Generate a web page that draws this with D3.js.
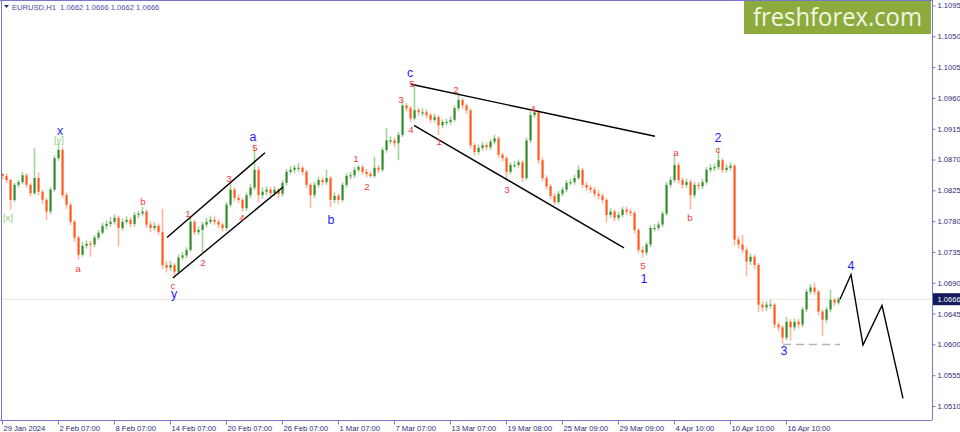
<!DOCTYPE html>
<html><head><meta charset="utf-8">
<script src="https://cdn.jsdelivr.net/npm/d3@7"></script>
<style>html,body{margin:0;padding:0;background:#fff;}svg{display:block;}</style>
</head><body>
<script>
// ---- data (EURUSD H1; one candle ~ 7 hourly bars) ----
const closes = [
1.0846,1.0840,1.0811,1.0833,1.0837,1.0847,1.0833,1.0821,1.0843,1.0823,
1.0811,1.0794,1.0826,1.0872,1.0884,1.0818,1.0804,1.0779,1.0756,1.0731,
1.0744,1.0747,1.0746,1.0756,1.0763,1.0773,1.0776,1.0779,1.0785,1.0770,
1.0779,1.0782,1.0776,1.0789,1.0791,1.0794,1.0775,1.0770,1.0773,1.0764,
1.0716,1.0712,1.0716,1.0706,1.0727,1.0730,1.0738,1.0779,1.0764,1.0767,
1.0775,1.0779,1.0782,1.0779,1.0775,1.0770,1.0804,1.0826,1.0814,1.0811,
1.0799,1.0818,1.0829,1.0855,1.0818,1.0823,1.0826,1.0821,1.0826,1.0820,
1.0836,1.0852,1.0855,1.0858,1.0858,1.0852,1.0833,1.0818,1.0833,1.0840,
1.0837,1.0843,1.0811,1.0817,1.0811,1.0833,1.0846,1.0847,1.0855,1.0859,
1.0852,1.0849,1.0846,1.0858,1.0855,1.0884,1.0898,1.0898,1.0894,1.0906,
1.0949,1.0945,1.0930,1.0942,1.0939,1.0939,1.0935,1.0928,1.0932,1.0920,
1.0925,1.0925,1.0928,1.0945,1.0957,1.0949,1.0942,1.0891,1.0881,1.0887,
1.0891,1.0888,1.0896,1.0901,1.0877,1.0872,1.0852,1.0862,1.0862,1.0866,
1.0843,1.0898,1.0935,1.0939,1.0869,1.0843,1.0831,1.0817,1.0808,1.0820,
1.0826,1.0836,1.0837,1.0843,1.0855,1.0833,1.0829,1.0826,1.0820,1.0817,
1.0811,1.0789,1.0794,1.0785,1.0789,1.0797,1.0794,1.0792,1.0767,1.0738,
1.0734,1.0746,1.0770,1.0770,1.0775,1.0791,1.0833,1.0840,1.0862,1.0840,
1.0833,1.0837,1.0818,1.0833,1.0831,1.0837,1.0855,1.0858,1.0859,1.0869,
1.0855,1.0858,1.0861,1.0753,1.0746,1.0738,1.0721,1.0728,1.0716,1.0658,
1.0654,1.0658,1.0658,1.0629,1.0625,1.0610,1.0633,1.0625,1.0633,1.0629,
1.0651,1.0677,1.0683,1.0677,1.0648,1.0636,1.0651,1.0665,1.0661,1.0666];
const highs = [
1.0850,1.0850,1.0842,1.0836,1.0841,1.0852,1.0850,1.0836,1.0887,1.0851,
1.0826,1.0814,1.0830,1.0876,1.0894,1.0888,1.0822,1.0807,1.0782,1.0759,
1.0750,1.0752,1.0751,1.0760,1.0767,1.0778,1.0781,1.0786,1.0790,1.0788,
1.0784,1.0787,1.0786,1.0793,1.0795,1.0801,1.0797,1.0780,1.0779,1.0777,
1.0798,1.0722,1.0722,1.0719,1.0731,1.0735,1.0742,1.0786,1.0782,1.0772,
1.0779,1.0785,1.0788,1.0787,1.0783,1.0778,1.0808,1.0837,1.0830,1.0819,
1.0814,1.0822,1.0834,1.0887,1.0860,1.0829,1.0831,1.0830,1.0831,1.0829,
1.0840,1.0856,1.0860,1.0862,1.0865,1.0861,1.0855,1.0836,1.0837,1.0845,
1.0844,1.0855,1.0846,1.0822,1.0820,1.0837,1.0850,1.0852,1.0859,1.0862,
1.0862,1.0856,1.0853,1.0874,1.0862,1.0888,1.0916,1.0904,1.0902,1.0910,
1.0957,1.0953,1.0948,1.0981,1.0946,1.0945,1.0943,1.0938,1.0937,1.0935,
1.0929,1.0930,1.0933,1.0949,1.0967,1.0960,1.0952,1.0945,1.0894,1.0892,
1.0896,1.0895,1.0900,1.0906,1.0904,1.0880,1.0875,1.0866,1.0868,1.0870,
1.0869,1.0902,1.0940,1.0945,1.0942,1.0873,1.0847,1.0834,1.0821,1.0824,
1.0830,1.0840,1.0842,1.0848,1.0862,1.0858,1.0837,1.0833,1.0830,1.0825,
1.0821,1.0814,1.0799,1.0797,1.0794,1.0801,1.0801,1.0798,1.0795,1.0770,
1.0743,1.0750,1.0774,1.0776,1.0780,1.0795,1.0837,1.0845,1.0877,1.0866,
1.0844,1.0842,1.0841,1.0837,1.0837,1.0842,1.0859,1.0863,1.0864,1.0887,
1.0872,1.0863,1.0866,1.0864,1.0758,1.0760,1.0742,1.0733,1.0731,1.0719,
1.0663,1.0663,1.0665,1.0661,1.0633,1.0628,1.0640,1.0637,1.0638,1.0637,
1.0655,1.0681,1.0688,1.0690,1.0680,1.0651,1.0655,1.0680,1.0668,1.0669];
const lows = [
1.0841,1.0836,1.0797,1.0808,1.0829,1.0834,1.0829,1.0816,1.0818,1.0818,
1.0805,1.0782,1.0790,1.0823,1.0868,1.0814,1.0798,1.0774,1.0750,1.0724,
1.0728,1.0740,1.0728,1.0742,1.0752,1.0760,1.0768,1.0772,1.0775,1.0743,
1.0766,1.0775,1.0771,1.0772,1.0784,1.0787,1.0770,1.0764,1.0766,1.0760,
1.0710,1.0705,1.0707,1.0697,1.0702,1.0723,1.0726,1.0735,1.0760,1.0760,
1.0734,1.0771,1.0776,1.0774,1.0770,1.0765,1.0766,1.0800,1.0809,1.0806,
1.0794,1.0795,1.0814,1.0825,1.0807,1.0813,1.0818,1.0816,1.0817,1.0814,
1.0816,1.0832,1.0848,1.0850,1.0852,1.0847,1.0828,1.0799,1.0814,1.0829,
1.0832,1.0833,1.0801,1.0806,1.0805,1.0808,1.0829,1.0841,1.0843,1.0851,
1.0848,1.0844,1.0843,1.0843,1.0850,1.0852,1.0880,1.0892,1.0888,1.0869,
1.0903,1.0940,1.0925,1.0927,1.0934,1.0933,1.0930,1.0923,1.0924,1.0906,
1.0916,1.0920,1.0921,1.0925,1.0941,1.0944,1.0937,1.0886,1.0876,1.0877,
1.0883,1.0884,1.0884,1.0892,1.0872,1.0867,1.0840,1.0848,1.0857,1.0858,
1.0837,1.0840,1.0894,1.0931,1.0864,1.0838,1.0826,1.0812,1.0804,1.0805,
1.0816,1.0822,1.0832,1.0833,1.0840,1.0829,1.0824,1.0821,1.0815,1.0812,
1.0806,1.0778,1.0785,1.0780,1.0781,1.0785,1.0789,1.0787,1.0762,1.0733,
1.0727,1.0730,1.0742,1.0765,1.0766,1.0771,1.0788,1.0829,1.0836,1.0835,
1.0828,1.0829,1.0797,1.0814,1.0826,1.0827,1.0833,1.0851,1.0853,1.0855,
1.0850,1.0851,1.0854,1.0744,1.0740,1.0733,1.0699,1.0716,1.0710,1.0647,
1.0648,1.0649,1.0652,1.0624,1.0619,1.0601,1.0606,1.0606,1.0620,1.0623,
1.0625,1.0647,1.0673,1.0672,1.0643,1.0612,1.0631,1.0647,1.0656,1.0658];
const firstOpen = 1.0849;

const timeLabels = ["29 Jan 2024","2 Feb 07:00","8 Feb 07:00","14 Feb 07:00","20 Feb 07:00","26 Feb 07:00","1 Mar 07:00","7 Mar 07:00","13 Mar 07:00","19 Mar 08:00","25 Mar 09:00","29 Mar 09:00","4 Apr 10:00","10 Apr 10:00","16 Apr 10:00"];
const candlesPerLabel = 14;
const totalSlots = 232.5;
const priceTicks = [1.1095,1.1050,1.1005,1.0960,1.0915,1.0870,1.0825,1.0780,1.0735,1.0690,1.0645,1.0600,1.0555,1.0510];
const lastPrice = 1.0666;
const headerText = "EURUSD,H1  1.0662 1.0666 1.0662 1.0666";
const brand = "freshforex.com";

// wave labels: [text, candle index, price]
const redLabels = [
 ["a",19,1.0711],["b",35.25,1.0808],["c",42.75,1.0686],
 ["1",46.5,1.0791],["2",50.25,1.0719],["3",56.75,1.0842],["4",60,1.0785],["5",63.25,1.0888],
 ["1",88.5,1.0872],["2",91.25,1.0831],["3",99.75,1.0957],["4",102.25,1.0914],["5",102.5,1.0981],
 ["1",109.25,1.0896],["2",113.5,1.0973],["3",126.25,1.0826],["4",132.75,1.0945],["5",160.25,1.0715],
 ["a",168.5,1.0881],["b",172,1.0785],["c",179,1.0885]];
const blueLabels = [
 ["x",14.5,1.0912],["y",43,1.0673],["a",62.75,1.0903],["b",82.25,1.0782],["c",102,1.0996],
 ["1",160.5,1.0696],["2",179,1.0902],["3",195.5,1.0590],["4",212.25,1.0714]];
const greenLabels = [["[x]",1.5,1.0785],["[y]",14.25,1.0900]];

const trendLines = [
 [[41.25,1.0756],[65.75,1.0880]],
 [[42.7,1.0697],[70.3,1.0830]],
 [[102.25,1.0980],[163.25,1.0904]],
 [[103,1.0920],[155.5,1.0741]]];
const projection = [[209.5,1.0666],[212.25,1.0702],[215.25,1.0599],[220,1.0657],[225.25,1.0521]];
const support = [[195.25,1.0600],[209.5,1.0600]];

// ---- drawing ----
const W = 960, H = 432, plotR = 932, plotB = 420;
const svg = d3.select("body").append("svg").attr("width", W).attr("height", H);
const x = d3.scaleLinear().domain([0, totalSlots]).range([2, plotR]);
const y = d3.scaleLinear().domain([1.0510, 1.1095]).range([406, 5.5]);
const font = "'Liberation Sans', Arial, sans-serif";
const axisColor = "#7777cc", textColor = "#2a2a78";

svg.append("defs").append("clipPath").attr("id","plot")
  .append("rect").attr("x",1).attr("y",0).attr("width",plotR-1).attr("height",plotB);

// watermark
svg.append("rect").attr("x",744).attr("y",0).attr("width",187).attr("height",34).attr("fill","#8dab3d");
svg.append("text").attr("x",753).attr("y",26).attr("font-family","'Open Sans', sans-serif")
  .attr("font-size",25).attr("fill","#f2f6e6").attr("textLength",169).attr("lengthAdjust","spacingAndGlyphs").text(brand);

// last price line
svg.append("line").attr("x1",2).attr("x2",plotR).attr("y1",y(lastPrice)).attr("y2",y(lastPrice))
  .attr("stroke","#e4e4e4").attr("stroke-width",1);

// candles
const candles = closes.map((c,i)=>({i, o: i===0?firstOpen:closes[i-1], c, h: highs[i], l: lows[i]}));
const g = svg.append("g").attr("clip-path","url(#plot)");
g.selectAll("line.wick").data(candles).join("line").attr("class","wick")
  .attr("x1",d=>x(d.i)+0.5).attr("x2",d=>x(d.i)+0.5)
  .attr("y1",d=>y(d.h)).attr("y2",d=>y(d.l))
  .attr("stroke",d=>d.c>=d.o?"#a3d39a":"#ffb49c").attr("stroke-width",1.6);
g.selectAll("rect.body").data(candles).join("rect").attr("class","body")
  .attr("x",d=>x(d.i)-0.5).attr("width",2.1)
  .attr("y",d=>y(Math.max(d.o,d.c)))
  .attr("height",d=>Math.max(1.2, y(Math.min(d.o,d.c))-y(Math.max(d.o,d.c))))
  .attr("fill",d=>d.c>=d.o?"#35892f":"#ff5a1c");

// trend lines
const line = d3.line().x(d=>x(d[0])).y(d=>y(d[1]));
g.selectAll("path.trend").data(trendLines).join("path").attr("class","trend")
  .attr("d",line).attr("fill","none").attr("stroke","#000").attr("stroke-width",1.4);
g.append("path").attr("d",line(support)).attr("fill","none").attr("stroke","#b4b4b4")
  .attr("stroke-width",1.5).attr("stroke-dasharray","8,5");
g.append("path").attr("d",line(projection)).attr("fill","none").attr("stroke","#000").attr("stroke-width",1.4);

// wave labels
function labels(arr, color, size){
  g.append("g").selectAll("text").data(arr).join("text")
    .attr("x",d=>x(d[1])).attr("y",d=>y(d[2])).attr("text-anchor","middle")
    .attr("dominant-baseline","central").attr("font-family",font).attr("font-size",size)
    .attr("fill",color).text(d=>d[0]);
}
labels(greenLabels,"#8fd07a",9.5);
labels(redLabels,"#f53b3b",9.8);
labels(blueLabels,"#1f1ff5",12.5);

// frame
svg.append("line").attr("x1",1.5).attr("x2",1.5).attr("y1",0).attr("y2",plotB).attr("stroke",axisColor);
svg.append("line").attr("x1",0).attr("x2",plotR).attr("y1",0.5).attr("y2",0.5).attr("stroke",axisColor);

// right price axis
const ya = svg.append("g").attr("transform",`translate(${plotR+0.5},0)`)
  .call(d3.axisRight(y).tickValues(priceTicks).tickFormat(d3.format(".4f")).tickSize(3).tickSizeOuter(0).tickPadding(2));
ya.select(".domain").attr("d",`M0,0V${plotB}`).attr("stroke",axisColor);
ya.selectAll(".tick line").attr("stroke",axisColor);
ya.selectAll("text").attr("font-family",font).attr("font-size",7.6).attr("fill",textColor);

// bottom time axis
const tickIdx = timeLabels.map((d,k)=>k*candlesPerLabel);
const xa = svg.append("g").attr("transform",`translate(0,${plotB+0.5})`)
  .call(d3.axisBottom(x).tickValues(tickIdx).tickFormat((d,k)=>timeLabels[k]).tickSize(4).tickSizeOuter(0).tickPadding(1));
xa.select(".domain").attr("d",`M0,0H${plotR}`).attr("stroke",axisColor);
xa.selectAll(".tick line").attr("stroke",axisColor);
xa.selectAll("text").attr("font-family",font).attr("font-size",7.6).attr("fill",textColor)
  .attr("text-anchor","start").attr("dx",1);

// last price tag
svg.append("rect").attr("x",plotR+1).attr("y",y(lastPrice)-6).attr("width",W-plotR-1).attr("height",12).attr("fill","#141a5a");
svg.append("text").attr("x",plotR+5.5).attr("y",y(lastPrice)).attr("dominant-baseline","central")
  .attr("font-family",font).attr("font-size",7.6).attr("fill","#fff").text(d3.format(".4f")(lastPrice));

// header
svg.append("path").attr("d","M4,5 L9,5 L6.5,8 Z").attr("fill","#2a2a78");
svg.append("text").attr("x",12).attr("y",9.5).attr("font-family",font).attr("font-size",7.6)
  .attr("fill","#4a4aa8").attr("xml:space","preserve").style("white-space","pre").text(headerText);
</script>
</body></html>
